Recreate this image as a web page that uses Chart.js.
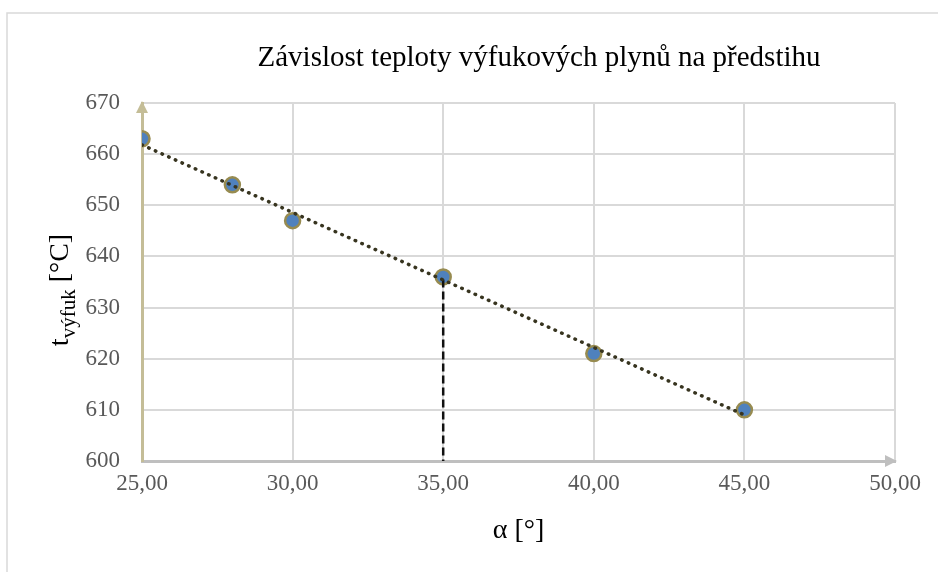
<!DOCTYPE html>
<html>
<head>
<meta charset="utf-8">
<script src="https://cdn.jsdelivr.net/npm/chart.js@4.4.1/dist/chart.umd.min.js"></script>
<style>
  html, body { margin: 0; padding: 0; background: #fff; }
  #wrap { width: 938px; height: 572px; position: relative; }
</style>
</head>
<body>
<div id="wrap"><canvas id="chart"></canvas></div>
<script>
// measured points
const alpha = [25, 28, 30, 35, 40, 45];
const tExhaust = [663, 654, 647, 636, 621, 610];
// linear trend line
const trendX = [25, 45];
const trendY = [661.8, 609.0];
// dashed drop line at 35 deg
const dropX = [35, 35];
const dropY = [635.5, 600];

const xTicks = [25, 30, 35, 40, 45, 50];
const yTicks = [600, 610, 620, 630, 640, 650, 660, 670];

const titleText = "Závislost teploty výfukových plynů na předstihu";

Chart.defaults.font.family = "'Liberation Serif', 'Times New Roman', serif";

function toXY(xs, ys){
    return xs.map((x, i) => ({x: x, y: ys[i]}));
}

// frame, title, arrows and the y title with subscript
const extras = {
    id: "extras",
    beforeDraw(chart){
        const ctx = chart.ctx;
        ctx.save();
        ctx.fillStyle = "#fff";
        ctx.fillRect(0, 0, chart.width, chart.height);
        ctx.strokeStyle = "#d9d9d9";
        ctx.lineWidth = 1.5;
        ctx.beginPath();
        ctx.moveTo(7, chart.height + 5);
        ctx.lineTo(7, 13);
        ctx.lineTo(chart.width + 5, 13);
        ctx.stroke();

        // chart title (the frame is wider than the view, so it sits right of centre)
        ctx.font = "29px 'Liberation Serif'";
        ctx.fillStyle = "#000";
        ctx.textAlign = "center";
        ctx.textBaseline = "middle";
        ctx.fillText(titleText, 539, 58);
        ctx.restore();
    },
    afterDraw(chart){
        const ctx = chart.ctx;
        const a = chart.chartArea;
        ctx.save();
        // y arrow
        ctx.fillStyle = "#c4bd97";
        ctx.beginPath();
        ctx.moveTo(a.left, a.top - 2);
        ctx.lineTo(a.left - 6, a.top + 10);
        ctx.lineTo(a.left + 6, a.top + 10);
        ctx.closePath();
        ctx.fill();
        // x arrow
        ctx.fillStyle = "#bfbfbf";
        ctx.beginPath();
        ctx.moveTo(a.right + 2, a.bottom);
        ctx.lineTo(a.right - 10, a.bottom - 6);
        ctx.lineTo(a.right - 10, a.bottom + 6);
        ctx.closePath();
        ctx.fill();

        // y axis title: t_výfuk [°C]
        const big = "28px 'Liberation Serif'";
        const small = "21px 'Liberation Serif'";
        const parts = [
            {s: "t", f: big, dy: 0},
            {s: "výfuk", f: small, dy: 7},
            {s: " [°C]", f: big, dy: 0}
        ];
        let total = 0;
        parts.forEach(p => { ctx.font = p.f; p.w = ctx.measureText(p.s).width; total += p.w; });
        ctx.translate(68, (a.top + a.bottom) / 2 + 8);
        ctx.rotate(-Math.PI / 2);
        ctx.fillStyle = "#000";
        ctx.textBaseline = "alphabetic";
        let px = -total / 2;
        parts.forEach(p => {
            ctx.font = p.f;
            ctx.fillText(p.s, px, p.dy);
            px += p.w;
        });
        ctx.restore();
    }
};

new Chart(document.getElementById("chart"), {
    type: "scatter",
    data: {
        datasets: [
            {
                label: "trend",
                type: "line",
                data: toXY(trendX, trendY),
                borderColor: "#37341f",
                borderWidth: 3.5,
                borderDash: [0.5, 6.8],
                borderCapStyle: "round",
                pointRadius: 0,
                fill: false
            },
            {
                label: "drop",
                type: "line",
                data: toXY(dropX, dropY),
                borderColor: "#111",
                borderWidth: 2.5,
                borderDash: [8, 4],
                pointRadius: 0,
                fill: false
            },
            {
                label: "t výfuk",
                data: toXY(alpha, tExhaust),
                backgroundColor: "#4f81bd",
                borderColor: "#978b50",
                borderWidth: 2.5,
                pointRadius: 7.5,
                pointHoverRadius: 7.5
            }
        ]
    },
    options: {
        responsive: true,
        maintainAspectRatio: false,
        animation: false,
        layout: { padding: { left: 0, right: 43, top: 103, bottom: 0 } },
        plugins: {
            legend: { display: false },
            tooltip: { enabled: false },
            title: { display: false }
        },
        scales: {
            x: {
                type: "linear",
                min: 25,
                max: 50,
                afterBuildTicks(scale){ scale.ticks = xTicks.map(v => ({value: v})); },
                afterFit(scale){ scale.height = 111; },
                ticks: {
                    color: "#595959",
                    font: { size: 23 },
                    padding: 9,
                    callback: v => v.toFixed(2).replace(".", ",")
                },
                grid: { color: "#d9d9d9", lineWidth: 2, drawTicks: false },
                border: { color: "#bfbfbf", width: 3 },
                title: {
                    display: true,
                    text: "α [°]",
                    color: "#000",
                    font: { size: 28 },
                    padding: { top: 0, bottom: 25 }
                }
            },
            y: {
                min: 600,
                max: 670,
                afterBuildTicks(scale){ scale.ticks = yTicks.map(v => ({value: v})); },
                afterFit(scale){ scale.width = 142; },
                ticks: {
                    color: "#595959",
                    font: { size: 23 },
                    padding: 22
                },
                grid: { color: "#d9d9d9", lineWidth: 2, drawTicks: false },
                border: { color: "#c4bd97", width: 3 }
            }
        }
    },
    plugins: [extras]
});
</script>
</body>
</html>
